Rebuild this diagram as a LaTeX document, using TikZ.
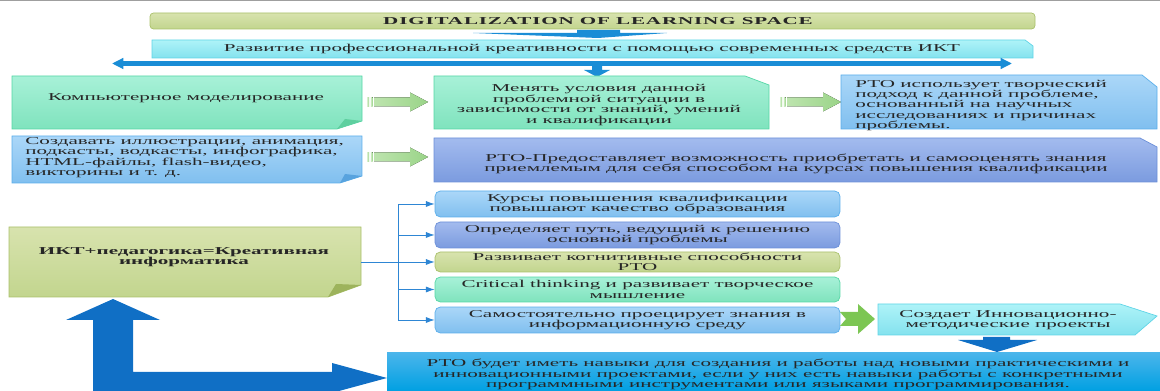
\documentclass[tikz,border=0pt]{standalone}
\usepackage{fontspec}
\setmainfont{Liberation Serif}
\newfontfamily\wideserif[FakeStretch=2.0]{Liberation Serif}
\usetikzlibrary{positioning,calc,arrows.meta}

\definecolor{inkgray}{HTML}{262626}
\definecolor{oliveA}{HTML}{D8E3AE}
\definecolor{oliveB}{HTML}{C2D58E}
\definecolor{oliveL}{HTML}{A9C06A}
\definecolor{oliveD}{HTML}{9DB35C}
\definecolor{mintA}{HTML}{A8F1D8}
\definecolor{mintB}{HTML}{7FE3BD}
\definecolor{mintL}{HTML}{55D6A5}
\definecolor{mintD}{HTML}{5ECF9F}
\definecolor{skyA}{HTML}{ABD7F8}
\definecolor{skyB}{HTML}{80BFEF}
\definecolor{skyL}{HTML}{5AAEEA}
\definecolor{skyD}{HTML}{58A3DE}
\definecolor{periA}{HTML}{A3BBEE}
\definecolor{periB}{HTML}{7B9BDF}
\definecolor{periL}{HTML}{6B8FD8}
\definecolor{cyanA}{HTML}{AEF3F8}
\definecolor{cyanB}{HTML}{84E2EE}
\definecolor{cyanL}{HTML}{5FD4E6}
\definecolor{deepA}{HTML}{4AB5EB}
\definecolor{deepB}{HTML}{00A0E2}
\definecolor{ribbon}{HTML}{1A8DD6}
\definecolor{bigblue}{HTML}{106FC5}
\definecolor{treeblue}{HTML}{2E86D4}
\definecolor{leafA}{HTML}{BDE4AE}
\definecolor{leafB}{HTML}{9AD488}
\definecolor{leafC}{HTML}{7CC653}

\tikzset{
  lbl/.style={font=\wideserif\fontsize{6}{5.9}\selectfont, text=inkgray, inner sep=0pt, align=center},
  boldlbl/.style={lbl, font=\wideserif\bfseries\fontsize{6}{5.9}\selectfont},
  olivebox/.style={top color=oliveA, bottom color=oliveB, draw=oliveL, line width=0.4pt},
  mintbox/.style={top color=mintA, bottom color=mintB, draw=mintL, line width=0.4pt},
  skybox/.style={top color=skyA, bottom color=skyB, draw=skyL, line width=0.4pt},
  peribox/.style={top color=periA, bottom color=periB, draw=periL, line width=0.4pt},
  cyanbox/.style={top color=cyanA, bottom color=cyanB, draw=cyanL, line width=0.4pt},
  smallbox/.style={lbl, rounded corners=3pt, minimum width=8.1cm},
  tree/.style={draw=treeblue, line width=0.5pt},
  treearr/.style={tree, -{Latex[length=5pt,width=3.5pt]}},
  dblarrow/.style={draw=ribbon, line width=2.3pt, {Triangle[length=6.5pt,width=6pt]}-{Triangle[length=6.5pt,width=6pt]}},
  garrow/.pic={
    \fill[left color=leafA!60, right color=leafB] (0,-4.5) rectangle (2,4.5);
    \fill[left color=leafA!60, right color=leafB] (3.5,-4.5) rectangle (5.5,4.5);
    \fill[left color=leafA, right color=leafB] (7,-4.5) -- (43,-4.5) -- (43,-9.5) -- (61,0) -- (43,9.5) -- (43,4.5) -- (7,4.5) -- cycle;
  }
}

\begin{document}
\begin{tikzpicture}[x=0.02cm, y=-0.02cm]
\useasboundingbox (0,0) rectangle (1160,391);
\draw[gray!75, line width=1pt] (0,0.5) -- (1160,0.5);

% title and subtitle
\draw[olivebox, rounded corners=2pt] (150,13) rectangle (1035,29);
\node[boldlbl] (title) at (598,21.5) {\addfontfeature{LetterSpace=8}DIGITALIZATION OF LEARNING SPACE};
\fill[ribbon] (577,30) -- (620,30) -- (620,33) -- (667,33) -- (598,38) -- (473,33) -- (577,33) -- cycle;
\draw[cyanbox] (152,40) -- (1025,40) -- (1033,46) -- (1033,58) -- (152,58) -- cycle;
\node[lbl] (devel) at (592,49) {Развитие профессиональной креативности с помощью современных средств ИКТ};

\coordinate (dl) at (112,63.5);
\coordinate (dr) at (1012,63.5);
\draw[dblarrow] (dl) -- (dr);
\fill[ribbon] (592,65) -- (602,65) -- (602,70) -- (610,70) -- (597,77) -- (584,70) -- (592,70) -- cycle;

% first row
\draw[mintbox] (12,76) -- (362,76) -- (362,121) -- (337,129) -- (12,129) -- cycle;
\fill[mintD] (337,129) -- (362,121) -- (345,119) -- cycle;
\node[lbl] (model) at (186,98) {Компьютерное моделирование};
\pic at (367,102) {garrow};

\draw[mintbox] (434,76) -- (745,76) -- (769,85) -- (769,129) -- (434,129) -- cycle;
\node[lbl] (change) at (599,105) {Менять условия данной\\проблемной ситуации в\\зависимости от знаний, умений\\и квалификации};
\pic at (780,102) {garrow};

\draw[skybox] (841,75) -- (1142,75) -- (1157,87) -- (1157,129) -- (841,129) -- cycle;
\node[lbl, align=left, anchor=west] (usage) at (855,105.5) {РТО использует творческий\\подход к данной проблеме,\\основанный на научных\\исследованиях и причинах\\проблемы.};

% second row
\draw[skybox] (12,136) -- (362,136) -- (362,176) -- (340,183) -- (12,183) -- cycle;
\fill[skyD] (340,183) -- (362,176) -- (345,174) -- cycle;
\node[lbl, align=left, anchor=west] (create) at (25,157.5) {Создавать иллюстрации, анимация,\\подкасты, водкасты, инфографика,\\HTML-файлы, flash-видео,\\викторины и т. д.};
\pic at (367,157) {garrow};

\draw[peribox] (434,138) -- (1140,138) -- (1157,147) -- (1157,182) -- (434,182) -- cycle;
\node[lbl] (provide) at (796,164) {РТО-Предоставляет возможность приобретать и самооценять знания\\приемлемым для себя способом на курсах повышения квалификации};

% ICT + pedagogy
\draw[olivebox] (9,227) -- (361,227) -- (361,285) -- (328,297) -- (9,297) -- cycle;
\fill[oliveD] (328,297) -- (361,285) -- (336,284) -- cycle;
\node[boldlbl] (ictped) at (184,257) {ИКТ+педагогика=Креативная\\информатика};
\coordinate (ictR) at (361,262);

\node[smallbox, skybox, minimum height=0.52cm] (course) at (637.5,204) {Курсы повышения квалификации\\повышают качество образования};
\node[smallbox, peribox, minimum height=0.52cm] (path) at (637.5,235) {Определяет путь, ведущий к решению\\основной проблемы};
\node[smallbox, olivebox, minimum height=0.4cm] (cogn) at (637.5,262) {Развивает когнитивные способности\\РТО};
\node[smallbox, mintbox, minimum height=0.5cm] (crit) at (637.5,289.5) {Critical thinking и развивает творческое\\мышление};
\node[smallbox, skybox, minimum height=0.52cm] (proj) at (637.5,320) {Самостоятельно проецирует знания в\\информационную среду};

\coordinate (fork) at (398,262);
\draw[tree] (ictR) -- (fork);
\foreach \n in {course,path,cogn,crit,proj}
  \draw[treearr] (fork) |- (\n.west);

% innovation projects
\fill[leafC] (840,312) -- (858,312) -- (858,304) -- (875,319) -- (858,334) -- (858,326) -- (840,326) -- (846,319) -- cycle;
\draw[cyanbox] (878,304) -- (1120,304) -- (1157,316) -- (1135,335) -- (878,335) -- cycle;
\node[lbl] (innov) at (1008,320) {Создает Инновационно-\\методические проекты};
\fill[bigblue] (983,337) -- (1010,337) -- (1010,340) -- (1037,340) -- (997,352) -- (958,340) -- (983,340) -- cycle;

% result
\fill[top color=deepA, bottom color=deepB] (387,353) rectangle (1160,391);
\node[lbl] (skills) at (778,374.5) {РТО будет иметь навыки для создания и работы над новыми практическими и\\инновационными проектами, если у них есть навыки работы с конкретными\\программными инструментами  или языками программирования.};

% big return arrow
\fill[bigblue] (113,299) -- (160,320) -- (133,320) -- (133,372) -- (332,372) -- (332,363) -- (387,378) -- (339,391) -- (93,391) -- (93,320) -- (66,320) -- cycle;
\end{tikzpicture}
\end{document}
